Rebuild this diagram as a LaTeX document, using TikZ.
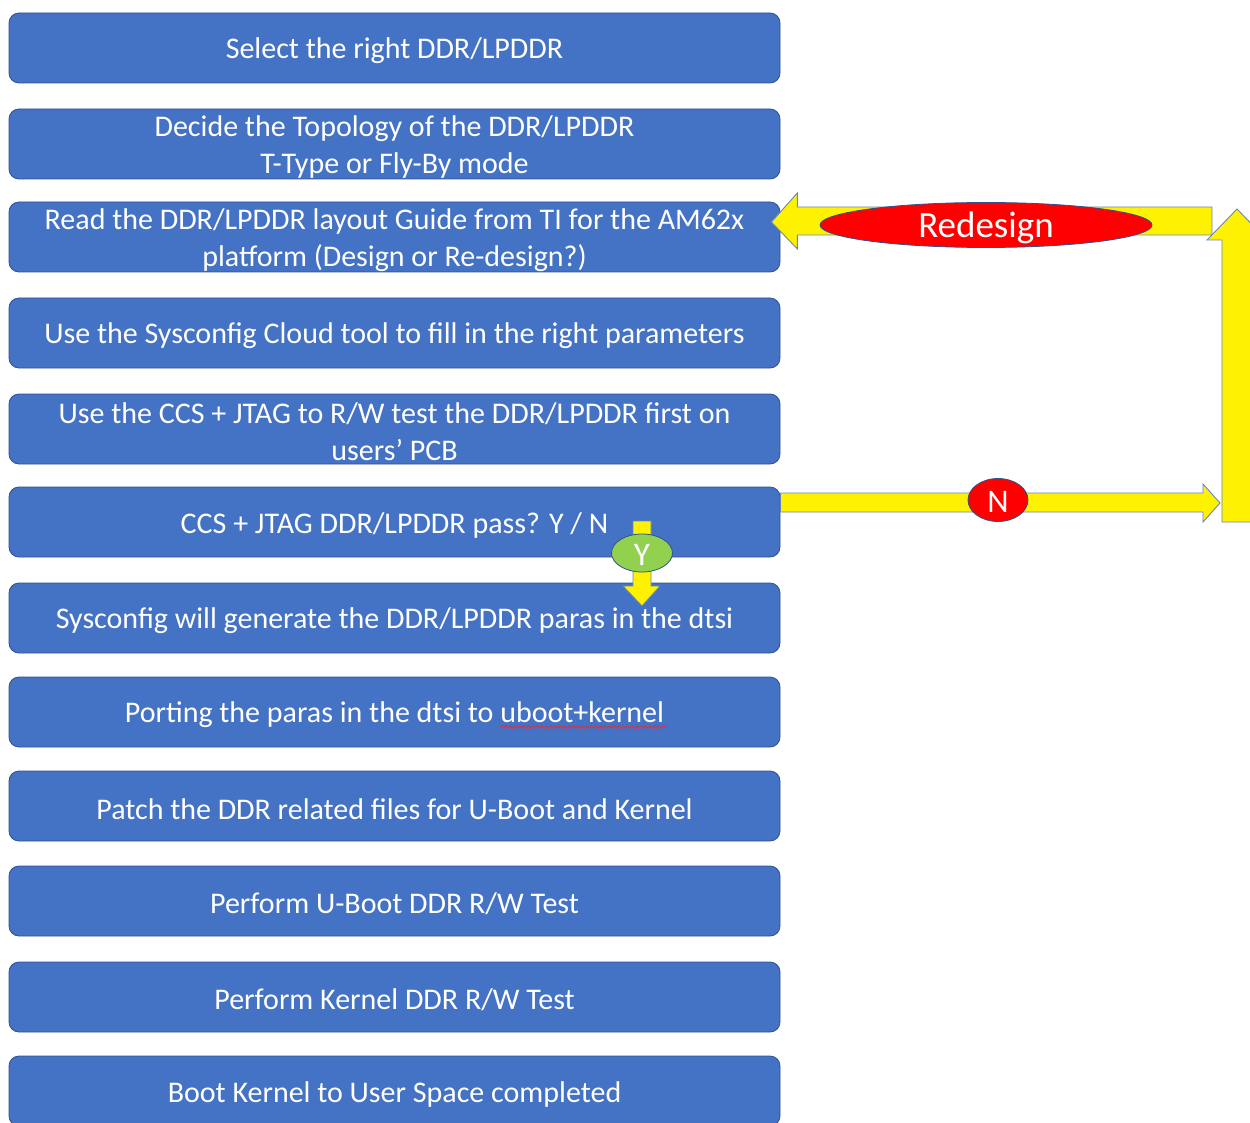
\documentclass[tikz,border=0pt]{standalone}
\usepackage{fontspec}
\setmainfont{Carlito}
\usetikzlibrary{calc,shapes.geometric,decorations.pathmorphing}
\definecolor{boxblue}{HTML}{4472C4}
\definecolor{boxedge}{HTML}{2F528F}
\definecolor{ygreen}{HTML}{92D050}
\definecolor{arredge}{HTML}{6A86B8}
\definecolor{squig}{HTML}{E0303A}
\tikzset{
  stepbox/.style={rectangle, rounded corners=10pt, fill=boxblue, draw=boxedge, line width=0.8pt,
    minimum width=771pt, minimum height=70pt, inner sep=0pt},
  steptext/.style={inner sep=0pt, text=white, align=center, font=\fontsize{30}{37}\selectfont},
  blockarrow/.style={fill=yellow, draw=arredge, line width=0.9pt, line join=miter},
  tag/.style={ellipse, draw=boxedge, line width=0.8pt, inner sep=0pt},
  tagtext/.style={inner sep=0pt, text=white},
}
\newcommand\stepnode[3]{%
  \node[stepbox] (#1) at (#2) {};
  \node[steptext] (#1t) at ([yshift=-3pt]#1.center) {#3};}
\begin{document}
\begin{tikzpicture}[x=1pt,y=-1pt]
\useasboundingbox (0,0) rectangle (1250,1123);
\clip (0,0) rectangle (1250,1123);
\stepnode{b1}{394.5,48}{Select the right DDR/LPDDR}
\stepnode{b2}{394.5,144}{Decide the Topology of the DDR/LPDDR\\T-Type or Fly-By mode}
\stepnode{b3}{394.5,237}{Read the DDR/LPDDR layout Guide from TI for the AM62x\\platform (Design or Re-design?)}
\stepnode{b4}{394.5,333}{Use the Sysconfig Cloud tool to fill in the right parameters}
\stepnode{b5}{394.5,429}{Use the CCS + JTAG to R/W test the DDR/LPDDR first on\\users’ PCB}
\stepnode{b6}{394.5,522}{CCS + JTAG DDR/LPDDR pass? Y / N}
\stepnode{b7}{394.5,618}{Sysconfig will generate the DDR/LPDDR paras in the dtsi}
\stepnode{b8}{394.5,712}{Porting the paras in the dtsi to uboot+kernel}
\stepnode{b9}{394.5,806}{Patch the DDR related files for U-Boot and Kernel}
\stepnode{b10}{394.5,901}{Perform U-Boot DDR R/W Test}
\stepnode{b11}{394.5,997}{Perform Kernel DDR R/W Test}
\stepnode{b12}{394.5,1091}{Boot Kernel to User Space completed}
% spell-check squiggle
\draw[squig, line width=0.9pt, decorate, decoration={snake, amplitude=1.3pt, segment length=4.5pt}]
  (500,727) -- (666,727);
% named ends of the loop arrows
\coordinate (nstart) at ($(b6.east)+(0,-19)$);
\coordinate (ntip) at (1220,503);
\coordinate (rtip) at ($(b3.east)+(-9,-15)$);
\coordinate (uptip) at (1237,209);
% Redesign arrow (left-pointing)
\draw[blockarrow] (rtip) -- ++(26,-29) -- ++(0,14) -- (1212,207) -- (1212,235) -- ($(rtip)+(26,13)$) -- ++(0,14) -- cycle;
% N arrow (right-pointing)
\draw[blockarrow] ($(nstart)+(0,-10)$) -- (1203,493) -- (1203,484) -- (ntip) -- (1203,522) -- (1203,512) -- ($(nstart)+(0,9)$) -- cycle;
% up arrow
\draw[blockarrow] (1222,522) -- (1222,240) -- (1207,240) -- (uptip) -- (1267,240) -- (1252,240) -- (1252,522) -- cycle;
% Y arrow (down)
\coordinate (ytop) at (642,521);
\coordinate (ytip) at (642,606);
\draw[blockarrow] ($(ytop)+(-9,0)$) -- ($(ytop)+(9,0)$) -- (651,586) -- (660,586) -- (ytip) -- (623,586) -- (633,586) -- cycle;
% labels
\node[tag, fill=red, minimum width=332pt, minimum height=45pt] (redes) at (986,225) {};
\node[tagtext, font=\fontsize{37}{40}\selectfont] at ([yshift=-3pt]redes.center) {Redesign};
\node[tag, fill=red, minimum width=60pt, minimum height=43pt] (nlab) at (998,500) {};
\node[tagtext, font=\fontsize{33}{36}\selectfont] at ([yshift=-1.5pt]nlab.center) {N};
\node[tag, fill=ygreen, minimum width=61pt, minimum height=38pt] (ylab) at (642,553) {};
\node[tagtext, font=\fontsize{33}{36}\selectfont] at ([yshift=-1.5pt]ylab.center) {Y};
\end{tikzpicture}
\end{document}
